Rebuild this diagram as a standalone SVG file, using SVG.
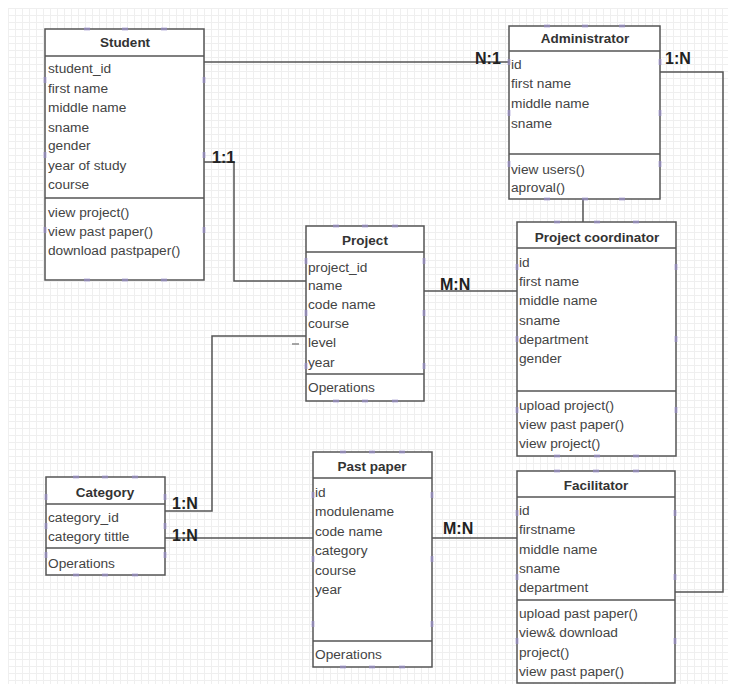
<svg xmlns="http://www.w3.org/2000/svg" xmlns:xlink="http://www.w3.org/1999/xlink" width="736" height="685" viewBox="0 0 736 685">
<defs>
<pattern id="grid" x="8" y="8" width="7" height="7" patternUnits="userSpaceOnUse">
<path d="M0 0.5H7M0.5 0V7" stroke="#efefef" stroke-width="1" fill="none"/>
</pattern>
<rect id="hh" x="-3" y="-1.5" width="6" height="3" fill="#9b8fd0" opacity="0.6"/>
<rect id="hv" x="-1.5" y="-3" width="3" height="6" fill="#9b8fd0" opacity="0.6"/>
</defs>
<style>
.box{fill:#fff;stroke:#555;stroke-width:1.5}
.sep{stroke:#555;stroke-width:1.5}
.t{font-family:"Liberation Sans",Arial,sans-serif;font-size:13.7px;fill:#444}
.ti{font-family:"Liberation Sans",Arial,sans-serif;font-size:13.5px;font-weight:bold;fill:#333;text-anchor:middle}
.lbl{font-family:"Liberation Sans",Arial,sans-serif;font-size:16px;font-weight:bold;fill:#222}
.con{fill:none;stroke:#555;stroke-width:1.5}
</style>
<rect width="736" height="685" fill="#fff"/>
<rect x="8" y="8" width="720" height="676" fill="url(#grid)"/>

<g id="connectors">
<path class="con" d="M204 62H509"/>
<path class="con" d="M660 72H723V592H675"/>
<path class="con" d="M204 162H234V281H306"/>
<path class="con" d="M583 199V222"/>
<path class="con" d="M424 291H517"/>
<path class="con" d="M165 511H212V336H306"/>
<path class="con" d="M165 538H313"/>
<path class="con" d="M432 538H517"/>
<path d="M292 344H299" stroke="#888" stroke-width="1.5"/>
<text class="lbl" x="475" y="64">N:1</text>
<text class="lbl" x="665" y="64">1:N</text>
<text class="lbl" x="212" y="163">1:1</text>
<text class="lbl" x="440" y="290">M:N</text>
<text class="lbl" x="172" y="509">1:N</text>
<text class="lbl" x="172" y="541">1:N</text>
<text class="lbl" x="443" y="534">M:N</text>
</g>

<g id="student">
<rect class="box" x="45" y="29" width="159" height="251"/>
<path class="sep" d="M45 56H204M45 198H204"/>
<text class="ti" x="125" y="47">Student</text>
<text class="t" x="48" y="73">student_id</text>
<text class="t" x="48" y="93">first name</text>
<text class="t" x="48" y="112">middle name</text>
<text class="t" x="48" y="132">sname</text>
<text class="t" x="48" y="150">gender</text>
<text class="t" x="48" y="170">year of study</text>
<text class="t" x="48" y="189">course</text>
<text class="t" x="48" y="217">view project()</text>
<text class="t" x="48" y="236">view past paper()</text>
<text class="t" x="48" y="255">download pastpaper()</text>
<use href="#hh" x="87" y="29"/><use href="#hh" x="125" y="29"/><use href="#hh" x="164" y="29"/>
<use href="#hh" x="87" y="280"/><use href="#hh" x="125" y="280"/><use href="#hh" x="164" y="280"/>
<use href="#hv" x="45" y="80"/><use href="#hv" x="45" y="155"/><use href="#hv" x="45" y="230"/>
<use href="#hv" x="204" y="80"/><use href="#hv" x="204" y="155"/><use href="#hv" x="204" y="230"/>
</g>

<g id="administrator">
<rect class="box" x="509" y="26" width="151" height="173"/>
<path class="sep" d="M509 51H660M509 154H660"/>
<text class="ti" x="585" y="43">Administrator</text>
<text class="t" x="511" y="69">id</text>
<text class="t" x="511" y="88">first name</text>
<text class="t" x="511" y="108">middle name</text>
<text class="t" x="511" y="128">sname</text>
<text class="t" x="511" y="174">view users()</text>
<text class="t" x="511" y="192">aproval()</text>
<use href="#hh" x="547" y="26"/><use href="#hh" x="585" y="26"/><use href="#hh" x="622" y="26"/>
<use href="#hh" x="547" y="199"/><use href="#hh" x="585" y="199"/><use href="#hh" x="622" y="199"/>
<use href="#hv" x="509" y="62"/><use href="#hv" x="509" y="113"/><use href="#hv" x="509" y="164"/>
<use href="#hv" x="660" y="62"/><use href="#hv" x="660" y="113"/><use href="#hv" x="660" y="164"/>
</g>

<g id="project">
<rect class="box" x="306" y="226" width="118" height="175"/>
<path class="sep" d="M306 252H424M306 374H424"/>
<text class="ti" x="365" y="245">Project</text>
<text class="t" x="308" y="272">project_id</text>
<text class="t" x="308" y="290">name</text>
<text class="t" x="308" y="309">code name</text>
<text class="t" x="308" y="328">course</text>
<text class="t" x="308" y="347">level</text>
<text class="t" x="308" y="367">year</text>
<text class="t" x="308" y="392">Operations</text>
<use href="#hh" x="336" y="226"/><use href="#hh" x="365" y="226"/><use href="#hh" x="395" y="226"/>
<use href="#hh" x="336" y="401"/><use href="#hh" x="365" y="401"/><use href="#hh" x="395" y="401"/>
<use href="#hv" x="306" y="261"/><use href="#hv" x="306" y="313"/><use href="#hv" x="306" y="366"/>
<use href="#hv" x="424" y="261"/><use href="#hv" x="424" y="313"/><use href="#hv" x="424" y="366"/>
</g>

<g id="project-coordinator">
<rect class="box" x="517" y="222" width="159" height="234"/>
<path class="sep" d="M517 248H676M517 391H676"/>
<text class="ti" x="597" y="242">Project coordinator</text>
<text class="t" x="519" y="267">id</text>
<text class="t" x="519" y="286">first name</text>
<text class="t" x="519" y="305">middle name</text>
<text class="t" x="519" y="325">sname</text>
<text class="t" x="519" y="344">department</text>
<text class="t" x="519" y="363">gender</text>
<text class="t" x="519" y="410">upload project()</text>
<text class="t" x="519" y="429">view past paper()</text>
<text class="t" x="519" y="448">view project()</text>
<use href="#hh" x="557" y="222"/><use href="#hh" x="597" y="222"/><use href="#hh" x="636" y="222"/>
<use href="#hh" x="557" y="456"/><use href="#hh" x="597" y="456"/><use href="#hh" x="636" y="456"/>
<use href="#hv" x="517" y="267"/><use href="#hv" x="517" y="339"/><use href="#hv" x="517" y="410"/>
<use href="#hv" x="676" y="267"/><use href="#hv" x="676" y="339"/><use href="#hv" x="676" y="410"/>
</g>

<g id="category">
<rect class="box" x="46" y="477" width="119" height="98"/>
<path class="sep" d="M46 504H165M46 548H165"/>
<text class="ti" x="105" y="497">Category</text>
<text class="t" x="48" y="522">category_id</text>
<text class="t" x="48" y="541">category tittle</text>
<text class="t" x="48" y="568">Operations</text>
<use href="#hh" x="76" y="477"/><use href="#hh" x="105" y="477"/><use href="#hh" x="135" y="477"/>
<use href="#hh" x="76" y="575"/><use href="#hh" x="105" y="575"/><use href="#hh" x="135" y="575"/>
<use href="#hv" x="46" y="497"/><use href="#hv" x="46" y="526"/><use href="#hv" x="46" y="555"/>
<use href="#hv" x="165" y="497"/><use href="#hv" x="165" y="526"/><use href="#hv" x="165" y="555"/>
</g>

<g id="past-paper">
<rect class="box" x="313" y="452" width="119" height="215"/>
<path class="sep" d="M313 478H432M313 641H432"/>
<text class="ti" x="372" y="471">Past paper</text>
<text class="t" x="315" y="497">id</text>
<text class="t" x="315" y="516">modulename</text>
<text class="t" x="315" y="536">code name</text>
<text class="t" x="315" y="555">category</text>
<text class="t" x="315" y="575">course</text>
<text class="t" x="315" y="594">year</text>
<text class="t" x="315" y="659">Operations</text>
<use href="#hh" x="343" y="452"/><use href="#hh" x="372" y="452"/><use href="#hh" x="402" y="452"/>
<use href="#hh" x="343" y="667"/><use href="#hh" x="372" y="667"/><use href="#hh" x="402" y="667"/>
<use href="#hv" x="313" y="495"/><use href="#hv" x="313" y="559"/><use href="#hv" x="313" y="624"/>
<use href="#hv" x="432" y="495"/><use href="#hv" x="432" y="559"/><use href="#hv" x="432" y="624"/>
</g>

<g id="facilitator">
<rect class="box" x="517" y="471" width="158" height="212"/>
<path class="sep" d="M517 497H675M517 600H675"/>
<text class="ti" x="596" y="490">Facilitator</text>
<text class="t" x="519" y="515">id</text>
<text class="t" x="519" y="534">firstname</text>
<text class="t" x="519" y="554">middle name</text>
<text class="t" x="519" y="573">sname</text>
<text class="t" x="519" y="592">department</text>
<text class="t" x="519" y="618">upload past paper()</text>
<text class="t" x="519" y="637">view&amp; download</text>
<text class="t" x="519" y="657">project()</text>
<text class="t" x="519" y="676">view past paper()</text>
<use href="#hh" x="557" y="471"/><use href="#hh" x="596" y="471"/><use href="#hh" x="636" y="471"/>
<use href="#hv" x="517" y="513"/><use href="#hv" x="517" y="577"/><use href="#hv" x="517" y="641"/>
<use href="#hv" x="675" y="513"/><use href="#hv" x="675" y="577"/><use href="#hv" x="675" y="641"/>
</g>
</svg>
